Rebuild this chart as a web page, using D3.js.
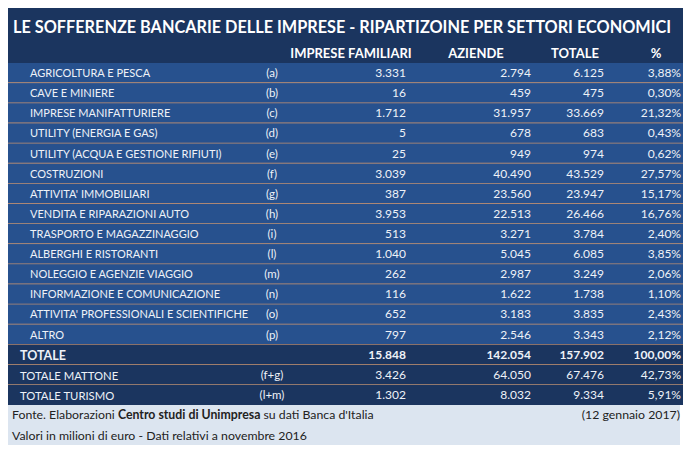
<!DOCTYPE html>
<html><head><meta charset="utf-8">
<script src="https://cdn.jsdelivr.net/npm/d3@7"></script>
<style>html,body{margin:0;padding:0;background:#fff;}svg{display:block;}</style>
</head><body>
<script>
const title = "LE SOFFERENZE BANCARIE DELLE IMPRESE - RIPARTIZOINE PER SETTORI ECONOMICI";
const headers = ["IMPRESE FAMILIARI", "AZIENDE", "TOTALE", "%"];
const sectors = ["AGRICOLTURA E PESCA","CAVE E MINIERE","IMPRESE MANIFATTURIERE","UTILITY (ENERGIA E GAS)","UTILITY (ACQUA E GESTIONE RIFIUTI)","COSTRUZIONI","ATTIVITA' IMMOBILIARI","VENDITA E RIPARAZIONI AUTO","TRASPORTO E MAGAZZINAGGIO","ALBERGHI E RISTORANTI","NOLEGGIO E AGENZIE VIAGGIO","INFORMAZIONE E COMUNICAZIONE","ATTIVITA' PROFESSIONALI E SCIENTIFICHE","ALTRO"];
const codes = ["(a)","(b)","(c)","(d)","(e)","(f)","(g)","(h)","(i)","(l)","(m)","(n)","(o)","(p)"];
const impreseFamiliari = [3331,16,1712,5,25,3039,387,3953,513,1040,262,116,652,797];
const aziende = [2794,459,31957,678,949,40490,23560,22513,3271,5045,2987,1622,3183,2546];
const totale = [6125,475,33669,683,974,43529,23947,26466,3784,6085,3249,1738,3835,3343];
const percent = [3.88,0.30,21.32,0.43,0.62,27.57,15.17,16.76,2.40,3.85,2.06,1.10,2.43,2.12];
const totalLabels = ["TOTALE","TOTALE MATTONE","TOTALE TURISMO"];
const totalCodes = ["","(f+g)","(l+m)"];
const totalImprese = [15848,3426,1302];
const totalAziende = [142054,64050,8032];
const totalTotale = [157902,67476,9334];
const totalPercent = [100.00,42.73,5.91];
const sourceText = ["Fonte. Elaborazioni ","Centro studi di Unimpresa"," su dati Banca d'Italia"];
const dateText = "(12 gennaio 2017)";
const noteText = "Valori in milioni di euro - Dati relativi a novembre 2016";

const W = 696, H = 450;
const L = 8, R = 683, T = 8;
const font = "Lato, 'Open Sans', sans-serif";
const loc = d3.formatLocale({decimal: ",", thousands: ".", grouping: [3], currency: ["", "€"]});
const fInt = loc.format(",d"), fPct = v => loc.format(",.2f")(v) + "%";

const rows = sectors.map((s,i) => ({label:s, code:codes[i], vals:[impreseFamiliari[i],aziende[i],totale[i]], pct:percent[i], total:false}))
  .concat(totalLabels.map((s,i) => ({label:s, code:totalCodes[i], vals:[totalImprese[i],totalAziende[i],totalTotale[i]], pct:totalPercent[i], total:true, bold:i===0})));

const svg = d3.select("body").append("svg").attr("width", W).attr("height", H).style("font-family", font);

const y = d3.scaleBand().domain(d3.range(rows.length)).range([63, 405]).padding(0);
const colX = d3.scaleOrdinal().domain([0,1,2,3]).range([406, 531, 604, 681]);
const headX = d3.scaleOrdinal().domain([0,1,2,3]).range([351, 476, 575, 656]);

// title & header band
svg.append("rect").attr("x", L).attr("y", T).attr("width", R-L).attr("height", 63-T).attr("fill", "#1b355f");
const tt = svg.append("text").attr("x", 13).attr("y", 33).attr("fill", "#fff").attr("font-weight", "bold")
  .attr("font-size", 17).text(title);
const tw = tt.node().getComputedTextLength();
tt.attr("font-size", 17 * 659 / tw);
svg.selectAll("text.h").data(headers).join("text").attr("class","h")
  .attr("x", (d,i) => headX(i)).attr("y", 58).attr("text-anchor","middle")
  .attr("fill","#fff").attr("font-weight","bold").attr("font-size",13).text(d => d);

// rows
const g = svg.selectAll("g.row").data(rows).join("g").attr("class","row")
  .attr("transform", (d,i) => `translate(0,${y(i)})`);
g.append("rect").attr("x", L).attr("width", R-L).attr("height", y.bandwidth())
  .attr("fill", d => d.total ? "#1b355f" : "#27518e");
g.filter((d,i) => i < rows.length-1).append("line").attr("x1", L).attr("x2", R)
  .attr("y1", y.bandwidth()).attr("y2", y.bandwidth()).attr("stroke", "#c99470").attr("stroke-width", 1.5);
const tb = y.bandwidth()/2 + 4;
g.append("text").attr("x", d => d.total ? 20 : 30).attr("y", d => d.total ? tb+1 : tb)
  .attr("fill","#eef2f8").attr("font-size", d => d.bold ? 12.5 : (d.total ? 11.3 : 11)).attr("font-weight", d => d.bold ? "bold" : "normal")
  .text(d => d.label);
g.append("text").attr("x", 272).attr("y", tb).attr("text-anchor","middle")
  .attr("fill","#eef2f8").attr("font-size", 11.5).text(d => d.code);
[0,1,2].forEach(c => {
  g.append("text").attr("x", colX(c)).attr("y", tb).attr("text-anchor","end")
    .attr("fill","#eef2f8").attr("font-size", 12).attr("font-weight", d => d.bold ? "bold" : "normal")
    .text(d => fInt(d.vals[c]));
});
g.append("text").attr("x", colX(3)).attr("y", tb).attr("text-anchor","end")
  .attr("fill","#eef2f8").attr("font-size", 12).attr("font-weight", d => d.bold ? "bold" : "normal")
  .text(d => fPct(d.pct));

// footer
svg.append("rect").attr("x", L).attr("y", 405).attr("width", R-L-3).attr("height", 40).attr("fill", "#dce5f0");
const src = svg.append("text").attr("x", 12).attr("y", 419).attr("fill","#222").attr("font-size", 12.3);
src.selectAll("tspan").data(sourceText).join("tspan").attr("font-weight",(d,i)=> i===1?"bold":"normal").text(d=>d);
svg.append("text").attr("x", 680).attr("y", 419).attr("text-anchor","end").attr("fill","#222").attr("font-size",12.3).text(dateText);
svg.append("text").attr("x", 12).attr("y", 440).attr("fill","#222").attr("font-size",12.3).text(noteText);
</script>
</body></html>
